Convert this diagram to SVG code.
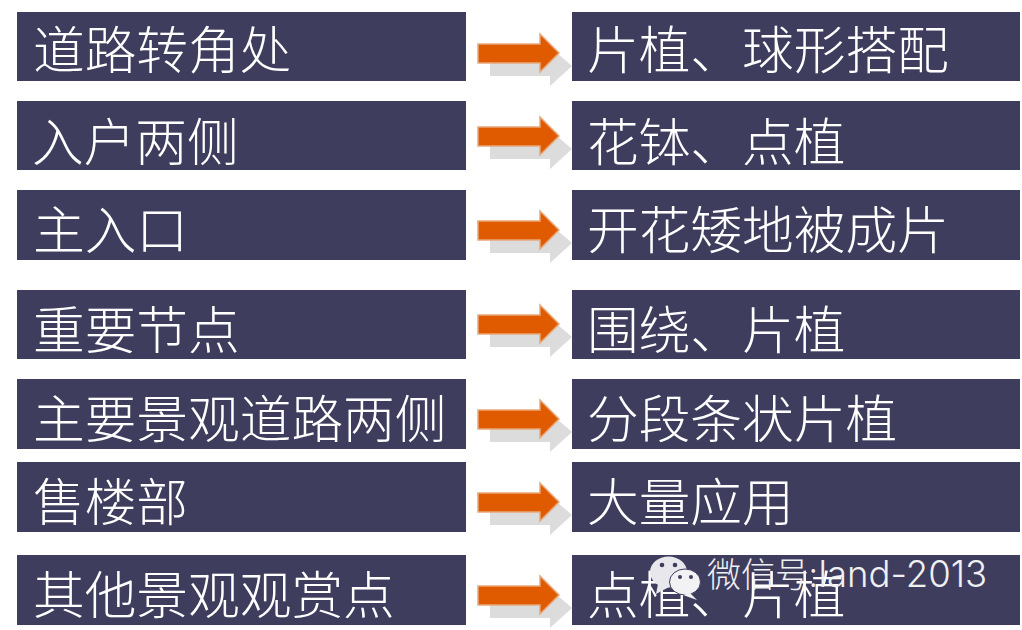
<svg xmlns="http://www.w3.org/2000/svg" width="1022" height="630" viewBox="0 0 1022 630">
<style>
.bar{fill:#3f3d5e}
.t{fill:#fff;font-family:"Noto Sans CJK SC","Noto Sans",sans-serif;font-size:51.7px;font-weight:300}
.s{fill:#dcdcdc}
.a{fill:#e05a00;stroke:#e8a878;stroke-width:1.5}
.wm{fill:#f0f0f2;font-family:"Noto Sans CJK SC","Noto Sans",sans-serif;font-size:34px;font-weight:300}
.wl{font-family:"Inter","Noto Sans",sans-serif;font-size:36.5px;font-weight:300}
</style>
<defs>
<g id="arrow">
<path class="s" d="M490 56H550V46L572 65L550 85V75H490Z"/>
<path class="a" d="M478 43H540V33L559 52L540 71V62H478Z"/>
</g>
</defs>
<rect width="1022" height="630" fill="#fff"/>
<g id="connectors">
<use href="#arrow" y="1"/>
<use href="#arrow" y="84"/>
<use href="#arrow" y="178"/>
<use href="#arrow" y="272"/>
<use href="#arrow" y="367"/>
<use href="#arrow" y="450"/>
<use href="#arrow" y="543"/>
</g>
<g id="l1"><rect class="bar" x="17" y="12" width="449" height="69"/><text class="t" x="33" y="69">道路转角处</text></g>
<g id="r1"><rect class="bar" x="572" y="12" width="448" height="69"/><text class="t" x="587" y="69">片植、球形搭配</text></g>
<g id="l2"><rect class="bar" x="17" y="101" width="449" height="69"/><text class="t" x="32" y="161">入户两侧</text></g>
<g id="r2"><rect class="bar" x="572" y="101" width="448" height="69"/><text class="t" x="587" y="161">花钵、点植</text></g>
<g id="l3"><rect class="bar" x="17" y="190" width="449" height="70"/><text class="t" x="33" y="249">主入口</text></g>
<g id="r3"><rect class="bar" x="572" y="190" width="448" height="70"/><text class="t" x="587" y="249">开花矮地被成片</text></g>
<g id="l4"><rect class="bar" x="17" y="290" width="449" height="69"/><text class="t" x="33" y="349">重要节点</text></g>
<g id="r4"><rect class="bar" x="572" y="290" width="448" height="69"/><text class="t" x="587" y="349">围绕、片植</text></g>
<g id="l5"><rect class="bar" x="17" y="379" width="449" height="70"/><text class="t" x="33" y="438">主要景观道路两侧</text></g>
<g id="r5"><rect class="bar" x="572" y="379" width="448" height="70"/><text class="t" x="587" y="438">分段条状片植</text></g>
<g id="l6"><rect class="bar" x="17" y="462" width="449" height="70"/><text class="t" x="33" y="521">售楼部</text></g>
<g id="r6"><rect class="bar" x="572" y="462" width="448" height="70"/><text class="t" x="587" y="521">大量应用</text></g>
<g id="l7"><rect class="bar" x="17" y="555" width="449" height="70"/><text class="t" x="33" y="614">其他景观观赏点</text></g>
<g id="r7"><rect class="bar" x="572" y="555" width="448" height="70"/><text class="t" x="587" y="614">点植、片植</text></g>
<g id="watermark">
<ellipse cx="668.500" cy="572" rx="18.500" ry="15.500" fill="#e8e8ec"/>
<path d="M658 584L656 594L669 587Z" fill="#e8e8ec"/>
<circle cx="662" cy="565" r="2.300" fill="#3f3d5e"/>
<circle cx="675" cy="565" r="2.300" fill="#3f3d5e"/>
<ellipse cx="685" cy="582" rx="15.500" ry="13" fill="#f2f2f4" stroke="#3f3d5e" stroke-width="1"/>
<path d="M690 593L697 600L683 595Z" fill="#f2f2f4"/>
<circle cx="680" cy="577" r="2" fill="#3f3d5e"/>
<circle cx="691" cy="577" r="2" fill="#3f3d5e"/>
<text class="wm" x="707" y="587">微信号:<tspan class="wl" dx="1">land-2013</tspan></text>
</g>
</svg>
